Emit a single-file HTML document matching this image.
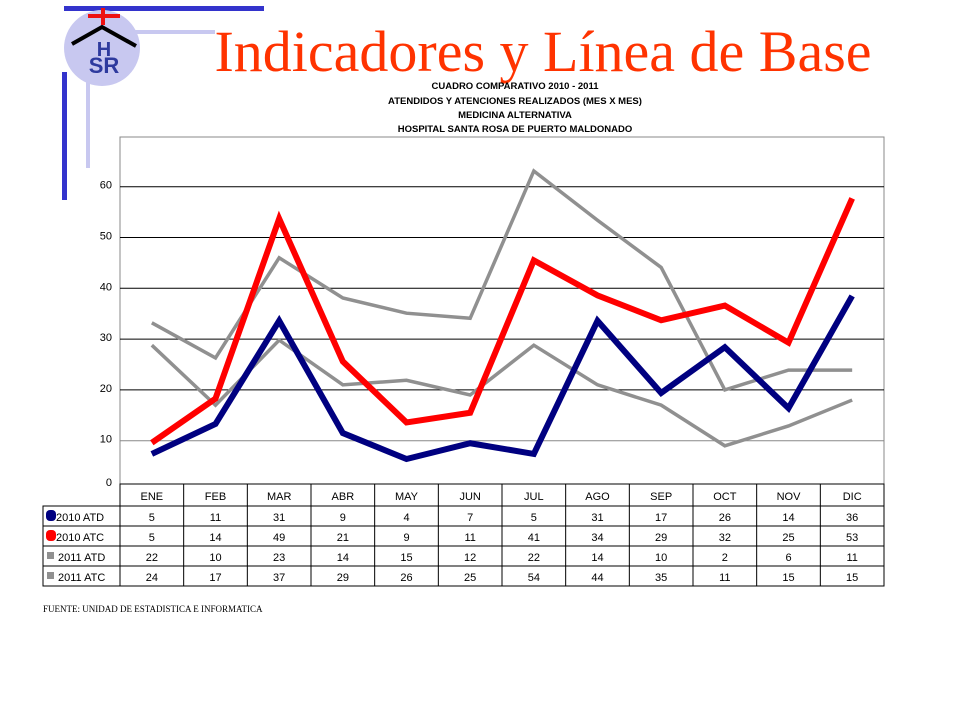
<!DOCTYPE html>
<html><head><meta charset="utf-8"><style>
body{margin:0;background:#fff;width:960px;height:720px;overflow:hidden}
svg{display:block}
</style></head><body>
<svg width="960" height="720" xmlns="http://www.w3.org/2000/svg">
<g>
<rect x="64" y="6" width="200" height="5" fill="#3333cc"/>
<rect x="130" y="30" width="85" height="4" fill="#c8c8f0"/>
<rect x="62" y="72" width="5" height="128" fill="#3333cc"/>
<rect x="86" y="80" width="4" height="88" fill="#c8c8f0"/>
<circle cx="102" cy="48" r="38" fill="#c8c8f0"/>
<path d="M72 44 L102 27 L136 46" stroke="#000" stroke-width="4" fill="none"/>
<path d="M88 16 H120 M103 8 V25" stroke="#ee1111" stroke-width="4"/>
<text x="104" y="56" font-family="Liberation Sans, sans-serif" font-weight="bold" font-size="20" fill="#2e3a9e" text-anchor="middle">H</text>
<text x="104" y="73" font-family="Liberation Sans, sans-serif" font-weight="bold" font-size="22" fill="#2e3a9e" text-anchor="middle">SR</text>
</g>
<text x="543" y="71" font-family="Liberation Serif, serif" font-size="58" fill="#ff3300" text-anchor="middle">Indicadores y Línea de Base</text>
<g font-family="Liberation Sans, sans-serif" font-size="9.5" font-weight="bold" text-anchor="middle">
<text x="515" y="89">CUADRO COMPARATIVO 2010 - 2011</text>
<text x="515" y="104">ATENDIDOS Y ATENCIONES  REALIZADOS (MES X MES)</text>
<text x="515" y="118">MEDICINA ALTERNATIVA</text>
<text x="515" y="132">HOSPITAL SANTA ROSA DE PUERTO MALDONADO</text>
</g>
<g id="chart"></g>
<text x="43" y="612" font-family="Liberation Serif, serif" font-size="9" fill="#000">FUENTE: UNIDAD DE ESTADISTICA E INFORMATICA</text>
</svg>
<script>
const months=["ENE","FEB","MAR","ABR","MAY","JUN","JUL","AGO","SEP","OCT","NOV","DIC"];
const yTicks=[0,10,20,30,40,50,60];
const atd2010=[7.4,13.3,33.6,11.5,6.4,9.5,7.4,33.6,19.4,28.4,16.4,38.5];
const atc2010=[9.6,18.3,53.7,25.6,13.6,15.5,45.5,38.6,33.7,36.6,29.3,57.7];
const atd2011=[28.8,17,29.8,21,21.9,19,28.8,21,17,9,12.9,18];
const atc2011=[33.2,26.3,46,38.1,35.1,34.1,63.1,53.4,44.1,20,23.9,23.9];
const tblAtd2010=[5,11,31,9,4,7,5,31,17,26,14,36];
const tblAtc2010=[5,14,49,21,9,11,41,34,29,32,25,53];
const tblAtd2011=[22,10,23,14,15,12,22,14,10,2,6,11];
const tblAtc2011=[24,17,37,29,26,25,54,44,35,11,15,15];
const NS="http://www.w3.org/2000/svg";
const g=document.getElementById('chart');
const L=120,R=884,T=137,B=484,cw=(R-L)/12;
const x=i=>L+cw*(i+0.5);
const y=v=>491.5-v*5.08;
function mk(t,a,p){const e=document.createElementNS(NS,t);for(const k in a)e.setAttribute(k,a[k]);(p||g).appendChild(e);return e;}
function tx(s,xx,yy,anc,p){const e=mk('text',{x:xx,y:yy,'font-family':'Liberation Sans, sans-serif','font-size':'11','text-anchor':anc},p);e.textContent=s;return e;}
const frame=mk('rect',{x:L,y:T,width:R-L,height:B-T,fill:'#fff',stroke:'#888','stroke-width':1});


yTicks.forEach(v=>{
  if(v>0){const ln=mk('line',{x1:L,x2:R,y1:y(v),y2:y(v),stroke:v==10?'#888':'#000','stroke-width':1});
  
  }
  const ly=v==0?B+4:y(v)+4;
  const t=tx(String(v),112,ly-2,'end');
  
  
});
const defs=mk('defs',{});const cp=mk('clipPath',{id:'cp'},defs);mk('rect',{x:L,y:T,width:R-L,height:B-T},cp);
const series=[
 {n:'series-2011-atd',d:atd2011,c:'#909090',w:3.5},
 {n:'series-2011-atc',d:atc2011,c:'#909090',w:3.5},
 {n:'series-2010-atc',d:atc2010,c:'#ff0000',w:6},
 {n:'series-2010-atd',d:atd2010,c:'#000080',w:6}];
series.forEach(s=>{
  const p=mk('polyline',{points:s.d.map((v,i)=>x(i)+','+y(v)).join(' '),fill:'none',stroke:s.c,'stroke-width':s.w,'stroke-linejoin':'miter','clip-path':'url(#cp)'});
  
  
});
const rows=[{lab:'2010 ATD',d:tblAtd2010,c:'#000080',round:1},{lab:'2010 ATC',d:tblAtc2010,c:'#ff0000',round:1},{lab:'2011 ATD',d:tblAtd2011,c:'#909090'},{lab:'2011 ATC',d:tblAtc2011,c:'#909090'}];
const rowY=[484,506,526,546,566,586];
const tb=mk('g',{});


mk('rect',{x:L,y:484,width:R-L,height:22,fill:'none',stroke:'#000'},tb);
mk('rect',{x:43,y:506,width:R-43,height:80,fill:'none',stroke:'#000'},tb);
for(let r=2;r<5;r++)mk('line',{x1:43,x2:R,y1:rowY[r],y2:rowY[r],stroke:'#000'},tb);
for(let i=0;i<=12;i++)mk('line',{x1:L+cw*i,x2:L+cw*i,y1:484,y2:586,stroke:'#000'},tb);
months.forEach((m,i)=>{const t=tx(m,x(i),500,'middle',tb);
 
 });
rows.forEach((r,ri)=>{
 const y0=rowY[ri+1];
 const sw=r.round?mk('rect',{x:46,y:y0+4,width:10,height:11,rx:4,fill:r.c},tb):mk('rect',{x:47,y:y0+6,width:7,height:7,fill:r.c},tb);
 
 
 const lt=tx(r.lab,r.round?56:58,y0+15,'start',tb);
 
 
 r.d.forEach((v,i)=>{tx(String(v),x(i),y0+15,'middle',tb);});
});
</script>
</body></html>
